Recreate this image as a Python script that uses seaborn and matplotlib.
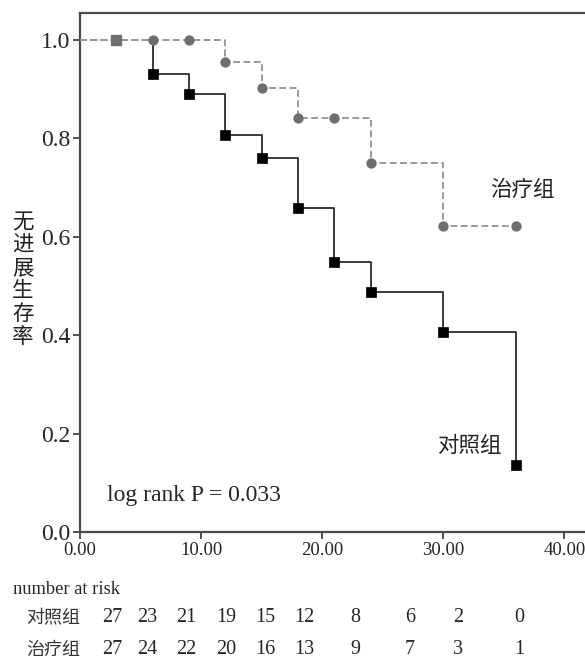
import pandas as pd
import matplotlib
matplotlib.use('Agg')
import matplotlib.pyplot as plt
import seaborn as sns

# survival data (months, survival fraction)
times = [0, 3, 6, 9, 12, 15, 18, 21, 24, 30, 36]
surv_control = [1.0, 1.0, 0.931, 0.890, 0.806, 0.761, 0.659, 0.549, 0.488, 0.406, 0.137]
surv_treat = [1.0, 1.0, 1.0, 1.0, 0.955, 0.902, 0.841, 0.841, 0.751, 0.622, 0.622]

# number at risk table
risk_control = [27, 23, 21, 19, 15, 12, 8, 6, 2, 0]
risk_treat = [27, 24, 22, 20, 16, 13, 9, 7, 3, 1]
group_names = ['对照组', '治疗组']

x_ticks = [0, 10, 20, 30, 40]
y_ticks = [0.0, 0.2, 0.4, 0.6, 0.8, 1.0]

sns.set_style('ticks')
plt.rcParams['font.family'] = ['Liberation Serif', 'Noto Sans CJK SC']
cjk = ['Noto Sans CJK SC', 'DejaVu Sans']

W, H = 585, 660
fig = plt.figure(figsize=(W / 100, H / 100), dpi=100)
ax = fig.add_axes([80 / W, 1 - 532 / H, 1 - 80 / W, (532 - 13) / H])

df_c = pd.DataFrame({'t': times, 's': surv_control})
df_t = pd.DataFrame({'t': times, 's': surv_treat})

# control: solid dark line, black squares
sns.lineplot(data=df_c, x='t', y='s', ax=ax, drawstyle='steps-post',
             color='#2b2b2b', linewidth=1.3, zorder=2)
sns.scatterplot(data=df_c.iloc[2:], x='t', y='s', ax=ax, marker='s', s=55,
                color='black', edgecolor='black', linewidth=0.5, zorder=4)

# treatment: dashed grey line, grey circles
sns.lineplot(data=df_t, x='t', y='s', ax=ax, drawstyle='steps-post',
             color='#9a9a9a', linewidth=1.4, linestyle=(0, (3.5, 1.8)),
             gapcolor='white', zorder=3)
sns.scatterplot(data=df_t.iloc[2:], x='t', y='s', ax=ax, marker='o', s=55,
                color='#6e6e6e', edgecolor='#6e6e6e', linewidth=0, zorder=4)
# overlapping first event at t=3
ax.plot(df_c['t'].iloc[1], df_c['s'].iloc[1], marker='s', ms=7.5,
        color='#707070', linestyle='none', zorder=5)

ax.set_xlim(0, 41.7)
ax.set_ylim(0, 1.055)
ax.set_xticks(x_ticks)
ax.set_xticklabels([f'{v:.2f}' for v in x_ticks], fontsize=13.5)
ax.set_yticks(y_ticks)
ax.set_yticklabels([f'{v:.1f}' for v in y_ticks], fontsize=17)
ax.set_xlabel('')
ax.set_ylabel('')
ax.tick_params(direction='out', length=5, width=1.3, color='#444444', pad=2)
for side in ['left', 'bottom', 'top']:
    ax.spines[side].set_color('#4a4a4a')
    ax.spines[side].set_linewidth(1.6)
ax.spines['right'].set_visible(False)

# annotations
fig.text(522 / W, 1 - 190 / H, group_names[1], family=cjk, fontsize=15.5,
         fontweight='light', ha='center', va='center', color='#222222')
fig.text(469 / W, 1 - 446 / H, group_names[0], family=cjk, fontsize=15.5,
         fontweight='light', ha='center', va='center', color='#222222')
fig.text(107 / W, 1 - 496 / H, 'log rank P = 0.033', fontsize=17,
         ha='left', va='center')

# y label, stacked characters
fig.text(23 / W, 1 - 280 / H, '\n'.join('无进展生存率'), family=cjk,
         fontsize=15.5, fontweight='light', ha='center', va='center',
         linespacing=1.05, color='#222222')

# number at risk table
risk_x = [112, 147, 186, 226, 265, 304, 355, 410, 458, 519]
fig.text(13 / W, 1 - 590 / H, 'number at risk', fontsize=13.3,
         ha='left', va='center')
for row_y, name, vals in [(618, group_names[0], risk_control),
                          (650, group_names[1], risk_treat)]:
    fig.text(53 / W, 1 - row_y / H, name, family=cjk, fontsize=13,
             fontweight='light', ha='center', va='center', color='#333333')
    for px, v in zip(risk_x, vals):
        fig.text(px / W, 1 - row_y / H, str(v), fontsize=14.5,
                 ha='center', va='center')

fig.savefig('out.png', dpi=100, facecolor='white')
